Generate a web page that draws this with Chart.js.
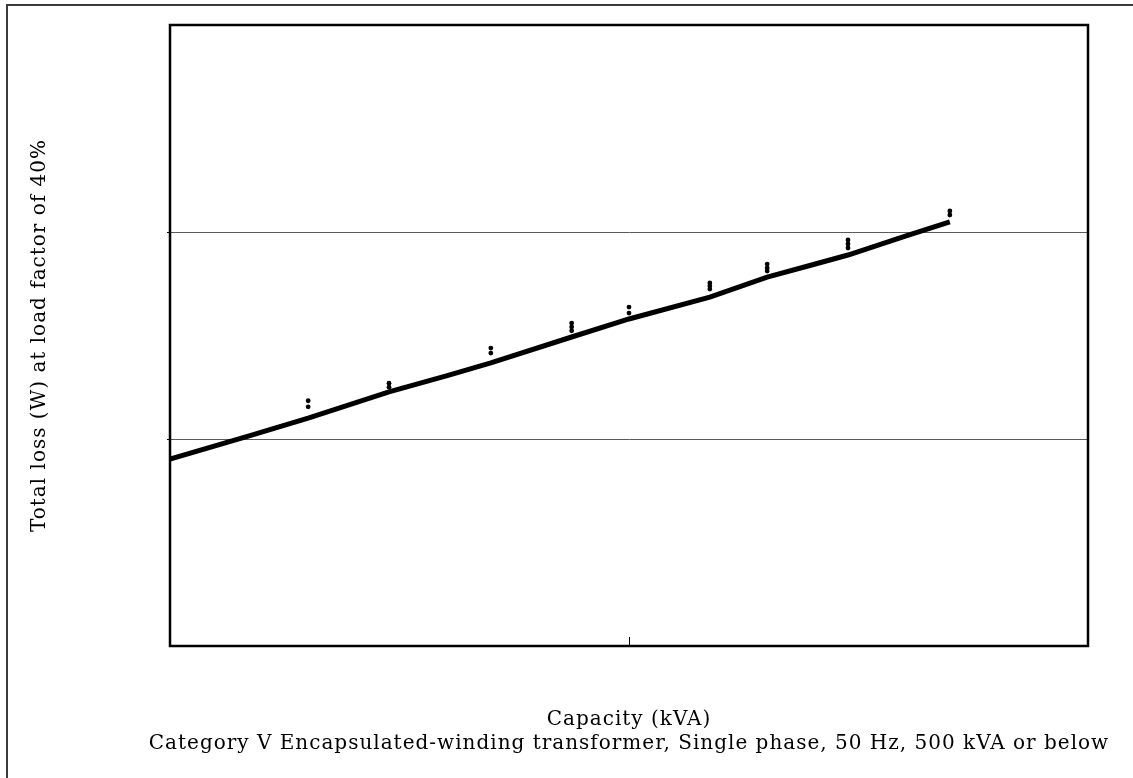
<!DOCTYPE html>
<html>
<head>
<meta charset="utf-8">
<script src="https://cdn.jsdelivr.net/npm/chart.js@4/dist/chart.umd.min.js"></script>
<style>
  html, body { margin: 0; padding: 0; background: #fff; overflow: hidden; }
  #frame {
    position: absolute; left: 6px; top: 4px; width: 1160px; height: 800px;
    border: 2px solid #3a3a3a; box-sizing: border-box;
  }
  #wrap { position: absolute; left: 0; top: 0; width: 1133px; height: 778px; }
</style>
</head>
<body>
<div id="frame"></div>
<div id="wrap"><canvas id="chart"></canvas></div>
<script>
// Standard-value line: capacity (kVA) and total loss (W)
const standardKVA   = [10, 15, 20, 30, 40, 50, 75, 100, 150, 200, 250, 300, 400, 500];
const standardLossW = [80, 104, 126, 169, 202, 233, 311, 380, 485, 606, 693, 774, 956, 1118];

// Measured products: capacity (kVA) and total loss (W)
const productKVA   = [20, 20, 30, 30, 50, 50, 75, 75, 75, 100, 100, 150, 150, 150, 200, 200, 200, 300, 300, 300, 500, 500];
const productLossW = [153, 143, 186, 178, 275, 260, 363, 348, 333, 434, 406, 567, 548, 530, 700, 670, 648, 915, 875, 837, 1263, 1208];

// Axis ticks
const xTickValues = [100];
const yTickValues = [100, 1000];

const xTitle  = 'Capacity (kVA)';
const caption = 'Category V Encapsulated-winding transformer, Single phase, 50 Hz, 500 kVA or below';
const yTitle  = 'Total loss (W) at load factor of 40%';

const FONT_FAMILY = "'DejaVu Serif', serif";
const FONT = { family: FONT_FAMILY, size: 20, lineHeight: 1.2 };
const LETTER_SPACING = '1px';

const toPoints = (xs, ys) => xs.map((x, i) => ({ x: x, y: ys[i] }));

// Wider letter spacing for every text drawn on the canvas
const spacingPlugin = {
  id: 'spacing',
  beforeDraw(chart) { chart.ctx.letterSpacing = LETTER_SPACING; }
};

// Plot frame, inward capacity tick and the category caption under the axis title
const framePlugin = {
  id: 'frame',
  afterDraw(chart) {
    const { ctx, chartArea: a, scales } = chart;
    ctx.save();
    ctx.strokeStyle = '#000';
    ctx.lineWidth = 2.5;
    ctx.strokeRect(a.left, a.top, a.right - a.left, a.bottom - a.top);
    ctx.lineWidth = 1;
    xTickValues.forEach(v => {
      const px = Math.round(scales.x.getPixelForValue(v)) + 0.5;
      ctx.beginPath();
      ctx.moveTo(px, a.bottom);
      ctx.lineTo(px, a.bottom - 9);
      ctx.stroke();
    });
    ctx.fillStyle = '#000';
    ctx.font = FONT.size + 'px ' + FONT_FAMILY;
    ctx.letterSpacing = LETTER_SPACING;
    ctx.textAlign = 'center';
    ctx.textBaseline = 'middle';
    const lh = FONT.size * FONT.lineHeight;
    ctx.fillText(caption, (a.left + a.right) / 2, scales.x.bottom - 22 - lh / 2);
    ctx.restore();
  }
};

new Chart(document.getElementById('chart'), {
  data: {
    datasets: [
      {
        type: 'line',
        data: toPoints(standardKVA, standardLossW),
        borderColor: '#000',
        borderWidth: 5,
        pointRadius: 0,
        tension: 0,
        order: 2
      },
      {
        type: 'scatter',
        data: toPoints(productKVA, productLossW),
        backgroundColor: '#000',
        borderColor: '#000',
        borderWidth: 0,
        pointRadius: 2.4,
        order: 1
      }
    ]
  },
  options: {
    responsive: true,
    maintainAspectRatio: false,
    animation: false,
    layout: { padding: { top: 25, right: 45, left: 0, bottom: 0 } },
    plugins: { legend: { display: false }, tooltip: { enabled: false } },
    scales: {
      x: {
        type: 'logarithmic',
        min: 10, max: 1000,
        afterBuildTicks: s => { s.ticks = xTickValues.map(v => ({ value: v })); },
        afterFit: s => { s.height = 132; },
        ticks: { display: false },
        grid: { display: false },
        border: { display: true, color: '#000', width: 2 },
        title: {
          display: true, text: xTitle, color: '#000', font: FONT,
          padding: { top: 0, bottom: 46 }
        }
      },
      y: {
        type: 'logarithmic',
        min: 10, max: 10000,
        afterBuildTicks: s => { s.ticks = yTickValues.map(v => ({ value: v })); },
        afterFit: s => { s.width = 170; },
        ticks: { display: false },
        grid: { color: '#5a5a5a', lineWidth: 1, tickLength: 3, tickColor: '#000' },
        border: { display: true, color: '#000', width: 2 },
        title: {
          display: true, text: yTitle, color: '#000', font: FONT,
          padding: { top: 28, bottom: 0 }
        }
      }
    }
  },
  plugins: [spacingPlugin, framePlugin]
});
</script>
</body>
</html>
